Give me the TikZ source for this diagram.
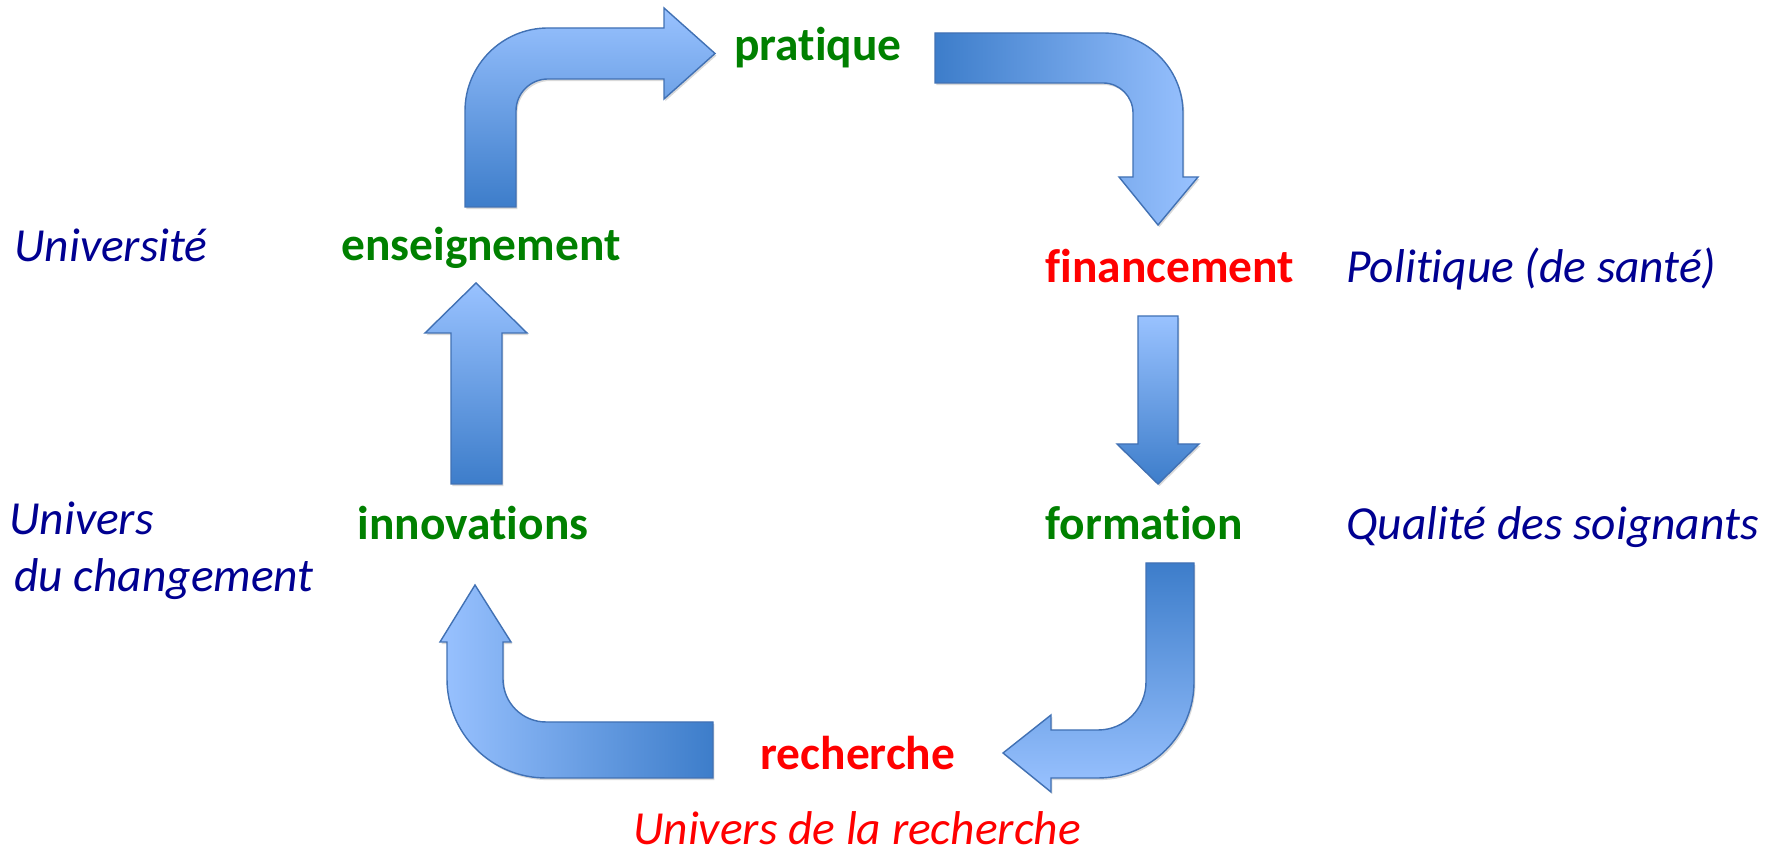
\documentclass[tikz,border=0pt]{standalone}
\usepackage{fontspec}
\setmainfont{Carlito}[Ligatures=NoCommon]
\usepackage{xcolor}
\usepackage{tikz}
\usetikzlibrary{shadows}

\definecolor{arrowdark}{RGB}{61,125,202}
\definecolor{arrowlight}{RGB}{153,194,255}
\definecolor{arrowline}{RGB}{65,113,180}
\definecolor{stepgreen}{RGB}{0,128,0}
\definecolor{stepred}{RGB}{255,0,0}
\definecolor{contextblue}{RGB}{0,0,145}

\begin{document}
\begin{tikzpicture}[
    x=0.02cm, y=0.02cm,
    blockarrow/.style={draw=arrowline, line width=0.8pt, line join=miter,
        drop shadow={shadow xshift=0.8pt, shadow yshift=-1.2pt, opacity=0.25, fill=black!60}},
    steplabel/.style={font=\bfseries\fontsize{27}{32}\selectfont, anchor=base, inner sep=0pt},
    context/.style={font=\itshape\fontsize{27}{32}\selectfont, text=contextblue, anchor=base west, inner sep=0pt}
]
    \useasboundingbox (0,0) rectangle (1781,857);

    % cycle steps
    \node[steplabel, text=stepgreen] (pratique) at (818,796) {pratique};
    \node[steplabel, text=stepred] (financement) at (1170,574) {financement};
    \node[steplabel, text=stepgreen] (formation) at (1144,317) {formation};
    \node[steplabel, text=stepred] (recherche) at (858,87) {recherche};
    \node[steplabel, text=stepgreen] (innovations) at (473,317) {innovations};
    \node[steplabel, text=stepgreen] (enseignement) at (481,596) {enseignement};

    % contexts
    \node[context] (universite) at (14,595) {Université};
    \node[context] (politique) at (1346,574) {Politique (de santé)};
    \node[context] (univers) at (9,322) {Univers};
    \node[context] (changement) at (14,265) {du changement};
    \node[context] (qualite) at (1346,317) {Qualité des soignants};
    \node[context, text=stepred, anchor=base] (rechuniv) at (857,12) {Univers de la recherche};

    % enseignement -> pratique
    \draw[blockarrow, top color=arrowlight, bottom color=arrowdark]
        (465,650) -- (465,746) arc[start angle=180, end angle=90, radius=83]
        -- (664,829) -- (664,849) -- (715,803.5) -- (664,758) -- (664,778) -- (548,778)
        arc[start angle=90, end angle=180, radius=32] -- (516,650) -- cycle;

    % pratique -> financement
    \draw[blockarrow, left color=arrowdark, right color=arrowlight]
        (935,824) -- (1103,824) arc[start angle=90, end angle=0, radius=80]
        -- (1183,680) -- (1198,680) -- (1158,632) -- (1119,680) -- (1133,680) -- (1133,744)
        arc[start angle=0, end angle=90, radius=30] -- (935,774) -- cycle;

    % financement -> formation
    \draw[blockarrow, top color=arrowlight, bottom color=arrowdark]
        (1138,541) -- (1178,541) -- (1178,413) -- (1199,413) -- (1158,373)
        -- (1117,413) -- (1138,413) -- cycle;

    % formation -> recherche
    \draw[blockarrow, top color=arrowdark, bottom color=arrowlight]
        (1146,294) -- (1194,294) -- (1194,175) arc[start angle=0, end angle=-90, radius=96]
        -- (1051,79) -- (1051,65) -- (1003,104) -- (1051,142) -- (1051,127) -- (1098,127)
        arc[start angle=-90, end angle=0, radius=48] -- cycle;

    % recherche -> innovations
    \draw[blockarrow, left color=arrowlight, right color=arrowdark]
        (713,135) -- (546,135) arc[start angle=270, end angle=180, radius=43]
        -- (503,215) -- (511,215) -- (475,272) -- (440,215) -- (447,215) -- (447,178)
        arc[start angle=180, end angle=270, radius=99] -- (713,79) -- cycle;

    % innovations -> enseignement
    \draw[blockarrow, top color=arrowlight, bottom color=arrowdark]
        (451,373) -- (502,373) -- (502,524) -- (527,524) -- (476,574)
        -- (425,524) -- (451,524) -- cycle;
\end{tikzpicture}
\end{document}
